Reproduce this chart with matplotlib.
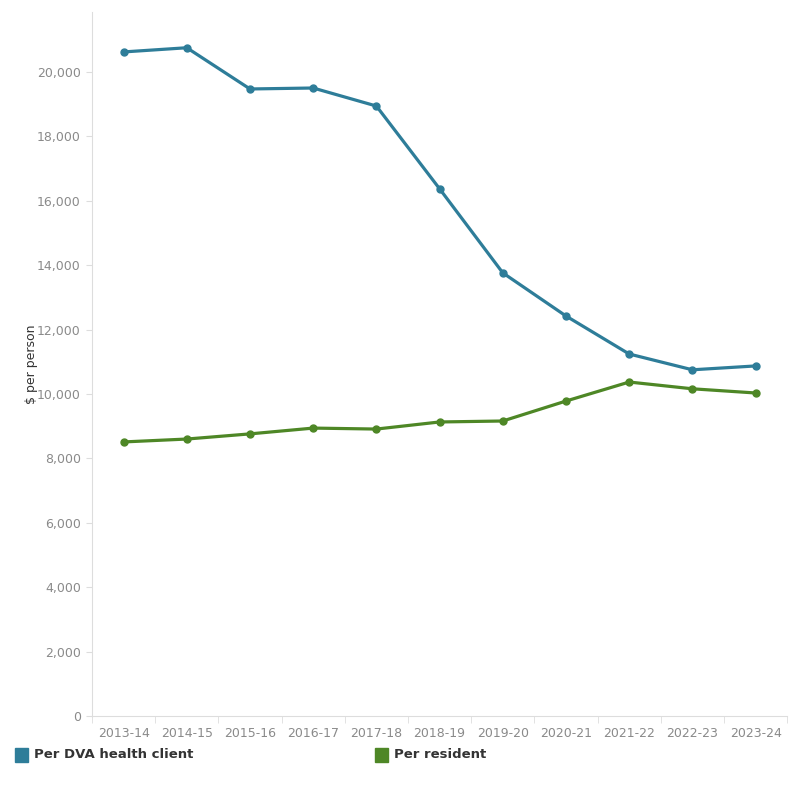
import numpy as np
import matplotlib
matplotlib.use("Agg")
from matplotlib import pyplot as plt
from matplotlib.patches import Rectangle

years = ["2013-14", "2014-15", "2015-16", "2016-17", "2017-18", "2018-19",
         "2019-20", "2020-21", "2021-22", "2022-23", "2023-24"]
per_client = [20620, 20750, 19470, 19500, 18940, 16370, 13760, 12420, 11240, 10750, 10870]
per_resident = [8510, 8600, 8760, 8940, 8910, 9130, 9160, 9780, 10370, 10160, 10030]

blue = "#2e7d99"
green = "#4e8726"
grey = "#8a8a8a"

fig = plt.figure(figsize=(8, 8), dpi=100)
ax = fig.add_axes([0.115, 0.105, 0.869, 0.88])

x = np.arange(len(years))
ax.plot(x, per_client, color=blue, lw=2.3, marker="o", ms=5)
ax.plot(x, per_resident, color=green, lw=2.3, marker="o", ms=5)

ax.set_xlim(-0.5, len(years) - 0.5)
ax.set_ylim(0, 21860)
ax.set_yticks(np.arange(0, 20001, 2000))
ax.set_yticklabels([f"{v:,}" for v in range(0, 20001, 2000)])
ax.set_xticks(x)
ax.set_xticklabels(years)
ax.set_xticks(np.arange(-0.5, len(years)), minor=True)
ax.tick_params(axis="x", which="major", length=0, pad=8)
ax.tick_params(axis="x", which="minor", length=5, color="#dddddd")
ax.tick_params(axis="y", length=4, color="#dddddd", pad=4)
ax.tick_params(labelsize=9, labelcolor=grey)

for s in ["top", "right"]:
    ax.spines[s].set_visible(False)
for s in ["left", "bottom"]:
    ax.spines[s].set_color("#dddddd")

ax.set_ylabel("$ per person", fontsize=9, color="#333333", labelpad=16)
ax.yaxis.set_label_coords(-0.077, 0.5)

# legend
fig.patches.append(Rectangle((15 / 800, 1 - 762 / 800), 13 / 800, 14 / 800,
                             transform=fig.transFigure, color=blue))
fig.text(34 / 800, 1 - 755 / 800, "Per DVA health client", fontsize=9.5,
         fontweight="semibold", color="#333333", va="center")
fig.patches.append(Rectangle((375 / 800, 1 - 762 / 800), 13 / 800, 14 / 800,
                             transform=fig.transFigure, color=green))
fig.text(394 / 800, 1 - 755 / 800, "Per resident", fontsize=9.5,
         fontweight="semibold", color="#333333", va="center")

fig.savefig("out.png", dpi=100)
